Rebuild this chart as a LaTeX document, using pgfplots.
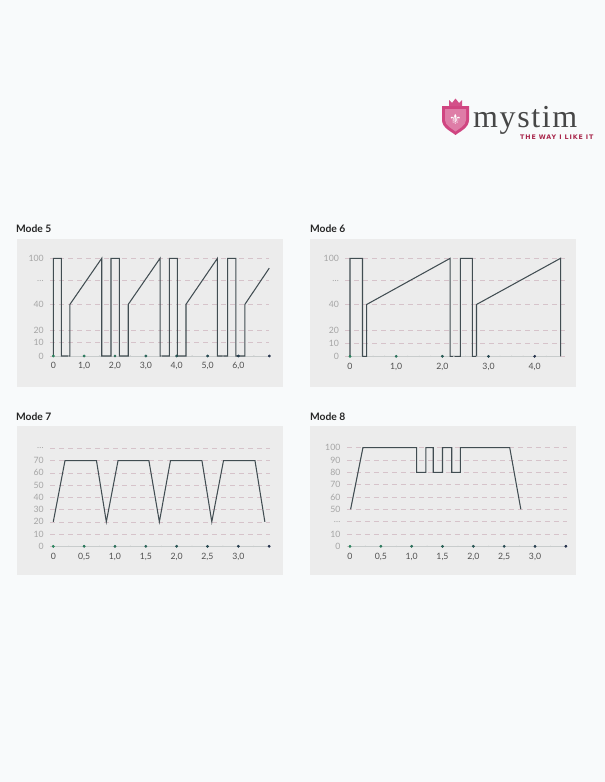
\documentclass[border=0pt]{standalone}
\usepackage{pgfplots}
\pgfplotsset{compat=1.18}
\usepackage{fontspec}
\setmainfont{Lato}
\newfontfamily\djv{DejaVu Sans}
\newfontfamily\logofont[LetterSpace=5]{Liberation Serif}
\newfontfamily\tagfont[LetterSpace=14]{DejaVu Sans}

\definecolor{bg}{HTML}{F8FAFB}
\definecolor{panel}{HTML}{ECECEC}
\definecolor{gridc}{HTML}{D6C3CA}
\definecolor{trace}{HTML}{414D52}
\definecolor{ylab}{HTML}{A5A5A5}
\definecolor{xlab}{HTML}{505050}
\definecolor{zline}{HTML}{C8CCCC}
\definecolor{logopink}{HTML}{C8246B}
\definecolor{tagred}{HTML}{A8254A}

\newcommand{\dd}{\ldots}

\pgfplotsset{
  mode/.style={
    scale only axis, clip=false,
    axis line style={draw=none},
    major tick length=0pt, minor tick length=0pt,
    ymin=0,
    ymajorgrids, grid style={gridc, dash pattern=on 5pt off 4pt, line width=0.5pt},
    yticklabel style={font=\fontsize{8.7}{9}\selectfont, text=ylab, xshift=-3pt},
    xticklabel style={font=\fontsize{8.7}{9}\selectfont, text=xlab, yshift=-3pt},
    colormap={dots}{rgb255=(45,150,105) rgb255=(40,55,85)},
  },
  dots/.style={only marks, scatter, point meta=x, mark=*, mark size=1.2pt},
  minor/.style={only marks, mark=*, mark size=0.45pt, color=zline},
  zero/.style={zline, line width=0.6pt},
  sig/.style={trace, line width=1.05pt},
}

\begin{document}
\begin{tikzpicture}[x=1pt,y=1pt]
\fill[bg] (0,0) rectangle (605,-782);

% panels
\fill[panel] (16.7,-239) rectangle (283.3,-386.7);
\fill[panel] (310,-239) rectangle (576,-386.7);
\fill[panel] (16.7,-426) rectangle (283.3,-575);
\fill[panel] (310,-426) rectangle (576,-575);

% titles
\node[anchor=west, font=\bfseries\fontsize{10.3}{11}\selectfont, text=black!85] at (12.5,-229) {Mode 5};
\node[anchor=west, font=\bfseries\fontsize{10.3}{11}\selectfont, text=black!85] at (306.5,-229) {Mode 6};
\node[anchor=west, font=\bfseries\fontsize{10.3}{11}\selectfont, text=black!85] at (12.5,-417) {Mode 7};
\node[anchor=west, font=\bfseries\fontsize{10.3}{11}\selectfont, text=black!85] at (306.5,-417) {Mode 8};

% logo
\fill[logopink!85] (442,-106) -- (469,-106) -- (469,-120) .. controls (469,-128) and (459,-132) .. (455.5,-135)
  .. controls (452,-132) and (442,-128) .. (442,-120) -- cycle;
\fill[white, opacity=0.3] (445,-109) -- (466,-109) -- (466,-120) .. controls (466,-126) and (458,-129) .. (455.5,-131.5)
  .. controls (453,-129) and (445,-126) .. (445,-120) -- cycle;
\node[text=white, font=\djv\fontsize{14}{14}\selectfont] at (455.5,-119.5) {⚜};
\fill[logopink!80] (449,-106) -- (449,-100) -- (452,-103) -- (455.5,-98.5) -- (459,-103) -- (462,-100) -- (462,-106) -- cycle;
\node[anchor=base west, inner sep=0pt, text=black!72, font=\logofont\fontsize{32}{32}\selectfont] at (473,-127.5) {mystim};
\node[anchor=base west, inner sep=0pt, text=tagred, font=\tagfont\bfseries\fontsize{6.3}{6.5}\selectfont] at (520,-139) {THE WAY I LIKE IT};

% Mode 5
\begin{axis}[mode, at={(50.2pt,-356pt)}, anchor=south west,
  width=219.1pt, height=97.7pt, xmin=-0.1, xmax=7.0, ymax=80,
  ytick={0,10.9,21,42.3,61.7,80}, yticklabels={0,10,20,40,\dd,100},
  xtick={0,1,2,3,4,5,6}, xticklabels={0,{1,0},{2,0},{3,0},{4,0},{5,0},{6,0}}]
\addplot[zero] coordinates {(0,0) (7,0)};
\addplot[minor] coordinates {(0.5,0) (1.5,0) (2.5,0) (3.5,0) (4.5,0) (5.5,0) (6.5,0)};
\addplot[sig] coordinates {
  (0,0) (0,80) (0.26,80) (0.26,0) (0.54,0) (0.54,42.3) (1.57,80) (1.57,0)
  (1.87,0) (1.87,80) (2.14,80) (2.14,0) (2.43,0) (2.43,42.3) (3.46,80) (3.46,0)
  (3.76,0) (3.76,80) (4.02,80) (4.02,0) (4.30,0) (4.30,42.3) (5.32,80) (5.32,0)
  (5.65,0) (5.65,80) (5.92,80) (5.92,0) (6.21,0) (6.21,42.3) (7.0,72)};
\addplot[dots] coordinates {(0,0) (1,0) (2,0) (3,0) (4,0) (5,0) (6,0) (7,0)};
\end{axis}

% Mode 6
\begin{axis}[mode, at={(345.4pt,-356.3pt)}, anchor=south west,
  width=219.3pt, height=98pt, xmin=-0.1, xmax=4.65, ymax=80,
  ytick={0,10.9,21,42.3,61.7,80}, yticklabels={0,10,20,40,\dd,100},
  xtick={0,1,2,3,4}, xticklabels={0,{1,0},{2,0},{3,0},{4,0}}]
\addplot[zero] coordinates {(0,0) (4.58,0)};
\addplot[minor] coordinates {(0.25,0) (0.5,0) (0.75,0) (1.25,0) (1.5,0) (1.75,0) (2.25,0) (2.5,0) (2.75,0) (3.25,0) (3.5,0) (3.75,0) (4.25,0)};
\addplot[sig] coordinates {
  (0,0) (0,80) (0.27,80) (0.27,0) (0.36,0) (0.36,42.3) (2.17,80) (2.17,0)
  (2.39,0) (2.39,80) (2.65,80) (2.65,0) (2.74,0) (2.74,42.3) (4.56,80) (4.56,0)};
\addplot[dots] coordinates {(0,0) (1,0) (2,0) (3,0) (4,0)};
\end{axis}

% Mode 7
\begin{axis}[mode, at={(50.2pt,-546.3pt)}, anchor=south west,
  width=220.2pt, height=98pt, xmin=-0.05, xmax=3.52, ymax=80,
  ytick={0,10,20,30,40,50,60,70,80}, yticklabels={0,10,20,30,40,50,60,70,\dd},
  xtick={0,0.5,1,1.5,2,2.5,3}, xticklabels={0,{0,5},{1,0},{1,5},{2,0},{2,5},{3,0}}]
\addplot[zero] coordinates {(0,0) (3.5,0)};
\addplot[minor] coordinates {(0.25,0) (0.75,0) (1.25,0) (1.75,0) (2.25,0) (2.75,0) (3.25,0)};
\addplot[sig] coordinates {
  (0,20) (0.19,70) (0.70,70) (0.86,20) (1.05,70) (1.55,70) (1.72,20)
  (1.90,70) (2.41,70) (2.57,20) (2.76,70) (3.27,70) (3.43,20)};
\addplot[dots] coordinates {(0,0) (0.5,0) (1,0) (1.5,0) (2,0) (2.5,0) (3,0) (3.5,0)};
\end{axis}

% Mode 8
\begin{axis}[mode, at={(346.9pt,-546.3pt)}, anchor=south west,
  width=220.2pt, height=98.6pt, xmin=-0.05, xmax=3.52, ymax=80,
  ytick={0,10,20,30,40,50,60,70,80}, yticklabels={0,10,\dd,50,60,70,80,90,100},
  xtick={0,0.5,1,1.5,2,2.5,3}, xticklabels={0,{0,5},{1,0},{1,5},{2,0},{2,5},{3,0}}]
\addplot[zero] coordinates {(0,0) (3.5,0)};
\addplot[minor] coordinates {(0.25,0) (0.75,0) (1.25,0) (1.75,0) (2.25,0) (2.75,0) (3.25,0)};
\addplot[sig] coordinates {
  (0.01,30) (0.21,80) (1.08,80) (1.08,60) (1.23,60) (1.23,80) (1.35,80) (1.35,60)
  (1.50,60) (1.50,80) (1.65,80) (1.65,60) (1.79,60) (1.79,80) (2.59,80) (2.77,30)};
\addplot[dots] coordinates {(0,0) (0.5,0) (1,0) (1.5,0) (2,0) (2.5,0) (3,0) (3.5,0)};
\end{axis}
\end{tikzpicture}
\end{document}
